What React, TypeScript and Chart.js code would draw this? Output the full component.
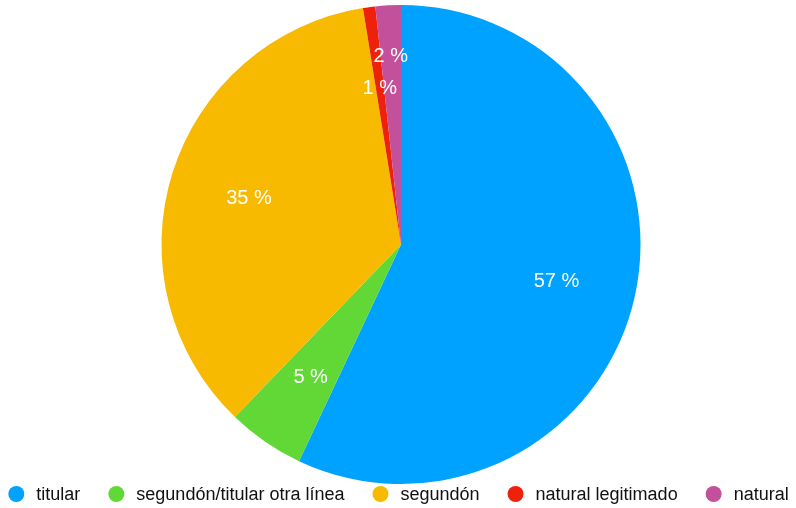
import React, { useEffect, useRef } from "react";
import { Chart, registerables } from "chart.js";

Chart.register(...registerables);

// Share of each category, in percent
const categories = [
  "titular",
  "segundón/titular otra línea",
  "segundón",
  "natural legitimado",
  "natural",
];
const shares = [57.0, 5.2, 35.26, 0.83, 1.71];
const sliceColors = ["#00A2FF", "#61D836", "#F8BA00", "#EE220C", "#C2509A"];

// Slice labels sit at this fraction of the radius; tiny neighbouring
// slices get one pushed further out so the two labels do not collide.
const LABEL_RADIUS = 0.665;
const LABEL_RADIUS_OVERRIDES: Record<number, number> = { 4: 0.795 };

const sliceLabelPlugin = {
  id: "sliceLabels",
  afterDatasetsDraw(chart: any) {
    const meta = chart.getDatasetMeta(0);
    const values = chart.data.datasets[0].data as number[];
    const ctx = chart.ctx;
    ctx.save();
    ctx.fillStyle = "#ffffff";
    ctx.font = "20px 'Liberation Sans', Arial, sans-serif";
    ctx.textAlign = "center";
    ctx.textBaseline = "middle";
    meta.data.forEach((arc: any, i: number) => {
      const { x, y, startAngle, endAngle, outerRadius } = arc.getProps(
        ["x", "y", "startAngle", "endAngle", "outerRadius"],
        true
      );
      const mid = (startAngle + endAngle) / 2;
      const f = LABEL_RADIUS_OVERRIDES[i] ?? LABEL_RADIUS;
      const r = outerRadius * f;
      const text = `${Math.round(values[i])} %`;
      // nudge down so the digits' cap height, not the em box, is centred
      ctx.fillText(text, x + Math.cos(mid) * r, y + Math.sin(mid) * r + 2);
    });
    ctx.restore();
  },
};

const bottomLegendPlugin = {
  id: "bottomLegend",
  afterDraw(chart: any) {
    const ctx = chart.ctx;
    const labels = chart.data.labels as string[];
    const colors = chart.data.datasets[0].backgroundColor as string[];
    const radius = 8;
    const textGap = 12;
    const itemGap = 28;
    const y = 494;
    ctx.save();
    ctx.font = "18px 'Liberation Sans', Arial, sans-serif";
    ctx.textBaseline = "middle";
    ctx.textAlign = "left";
    const widths = labels.map(
      (l) => radius * 2 + textGap + ctx.measureText(l).width
    );
    const total =
      widths.reduce((a, b) => a + b, 0) + itemGap * (labels.length - 1);
    let x = 398.5 - total / 2;
    labels.forEach((l, i) => {
      ctx.fillStyle = colors[i];
      ctx.beginPath();
      ctx.arc(x + radius, y, radius, 0, Math.PI * 2);
      ctx.fill();
      ctx.fillStyle = "#111111";
      ctx.fillText(l, x + radius * 2 + textGap, y + 1);
      x += widths[i] + itemGap;
    });
    ctx.restore();
  },
};

export default function App() {
  const canvasRef = useRef<HTMLCanvasElement | null>(null);

  useEffect(() => {
    if (!canvasRef.current) return;
    const chart = new Chart(canvasRef.current, {
      type: "pie",
      data: {
        labels: categories,
        datasets: [
          {
            data: shares,
            backgroundColor: sliceColors,
            borderWidth: 0,
          },
        ],
      },
      options: {
        animation: false,
        responsive: true,
        maintainAspectRatio: false,
        layout: { padding: { top: 5, bottom: 24, left: 6, right: 0 } },
        plugins: {
          legend: { display: false },
          tooltip: { enabled: false },
        },
      },
      plugins: [sliceLabelPlugin, bottomLegendPlugin],
    });
    return () => chart.destroy();
  }, []);

  return (
    <div
      style={{
        position: "fixed",
        left: 0,
        top: 0,
        width: 796,
        height: 508,
        background: "#ffffff",
      }}
    >
      <canvas ref={canvasRef} />
    </div>
  );
}
